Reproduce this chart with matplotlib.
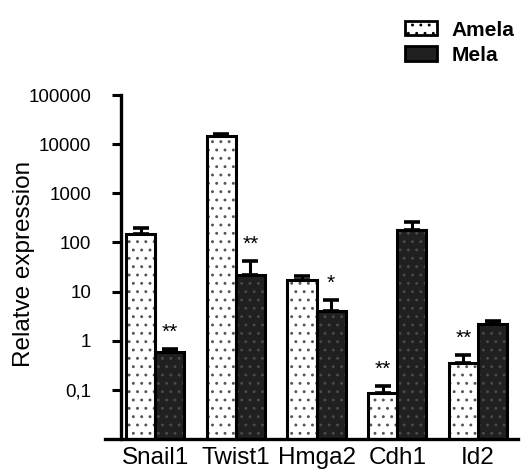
import numpy as np
import matplotlib.pyplot as plt
from matplotlib.patches import Patch

plt.rcParams['font.family'] = ['Liberation Sans', 'DejaVu Sans']
plt.rcParams['hatch.linewidth'] = 0.9

genes = ['Snail1', 'Twist1', 'Hmga2', 'Cdh1', 'Id2']
amela = [150, 14500, 17.5, 0.085, 0.36]
amela_err = [50, 1500, 3.5, 0.035, 0.16]
mela = [0.58, 22, 4.1, 176, 2.2]
mela_err = [0.1, 20, 2.7, 90, 0.3]
# significance marks: (gene index, series, text)
stars = [(0, 'mela', '**'), (1, 'mela', '**'), (2, 'mela', '*'),
         (3, 'amela', '**'), (4, 'amela', '**')]
yticks = [0.1, 1, 10, 100, 1000, 10000, 100000]
ytick_labels = ['0,1', '1', '10', '100', '1000', '10000', '100000']

fig = plt.figure(figsize=(5.28, 4.75), dpi=100)
ax = fig.add_axes([105 / 528, 1 - 439 / 475, 413 / 528, 344 / 475])

x = np.arange(len(genes))
w = 0.36
off = 0.18

# Amela: white with dots
ax.bar(x - off, amela, w, color='white', edgecolor='#555555', hatch='..',
       linewidth=0, zorder=2)
ax.bar(x - off, amela, w, fill=False, edgecolor='black', linewidth=2.2, zorder=3)
# Mela: dark with faint dots
ax.bar(x + off, mela, w, color='#202020', edgecolor='#4a4a4a', hatch='..',
       linewidth=0, zorder=2)
ax.bar(x + off, mela, w, fill=False, edgecolor='black', linewidth=2.2, zorder=3)

ekw = dict(fmt='none', ecolor='black', elinewidth=2.2, capsize=5.5,
           capthick=2.6, zorder=1)
ax.errorbar(x - off, amela, yerr=[np.zeros(5), amela_err], **ekw)
ax.errorbar(x + off, mela, yerr=[np.zeros(5), mela_err], **ekw)

for i, s, t in stars:
    if s == 'mela':
        xp, top = x[i] + off, mela[i] + mela_err[i]
    else:
        xp, top = x[i] - off, amela[i] + amela_err[i]
    ax.annotate(t, (xp, top), xytext=(0, 5), textcoords='offset points',
                ha='center', va='bottom', fontsize=15)

ax.set_yscale('log')
ax.set_ylim(0.01, 100000)
ax.set_xlim(-0.62, 4.495)
ax.set_yticks(yticks)
ax.set_yticklabels(ytick_labels)
ax.minorticks_off()
ax.tick_params(axis='y', length=6.5, width=2.2, pad=15, labelsize=13.5)
for lab in ax.get_yticklabels():
    lab.set_fontweight('bold')
ax.set_xticks(x)
ax.set_xticklabels(genes)
ax.tick_params(axis='x', length=0, pad=6, labelsize=17.5)

for sp in ['top', 'right']:
    ax.spines[sp].set_visible(False)
ax.spines['left'].set_position(('data', -0.42))
ax.spines['left'].set_linewidth(2.4)
ax.spines['bottom'].set_linewidth(2.4)

ax.set_ylabel('Relatve expression', fontsize=17.5)
ax.yaxis.set_label_coords(-0.17, 0.51)

handles = [Patch(facecolor='white', edgecolor='black', linewidth=2, hatch='..'),
           Patch(facecolor='#202020', edgecolor='black', linewidth=2)]
fig.legend(handles, ['Amela', 'Mela'], loc='upper left',
           bbox_to_anchor=(390 / 528, 1 - 6 / 475), frameon=False,
           prop={'weight': 'bold', 'size': 15}, handlelength=1.55,
           handleheight=0.67, handletextpad=0.7, labelspacing=0.3,
           borderpad=0.2)

fig.savefig('out.png', dpi=100)
